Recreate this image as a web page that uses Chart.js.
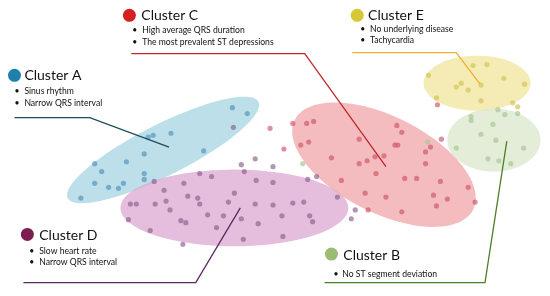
<!DOCTYPE html>
<html>
<head>
<meta charset="utf-8">
<script src="https://cdn.jsdelivr.net/npm/chart.js@4"></script>
<style>
  html, body { margin: 0; padding: 0; background: #fff; }
  canvas { display: block; }
</style>
</head>
<body>
<canvas id="clusters" width="550" height="296"></canvas>
<script>
// cluster names and their descriptions
var clusterNames = ['Cluster A', 'Cluster B', 'Cluster C', 'Cluster D', 'Cluster E'];
var clusterNotes = [
  ['Sinus rhythm', 'Narrow QRS interval'],
  ['No ST segment deviation'],
  ['High average QRS duration', 'The most prevalent ST depressions'],
  ['Slow heart rate', 'Narrow QRS interval'],
  ['No underlying disease', 'Tachycardia']
];

// embedding coordinates per cluster, [x, y]
var pointsA = [[232,107],[247,113],[152,135],[170,133],[147,137],[143,154],[125,162],[93,164],
  [100,172],[143,174],[143,180],[93,184],[107,188],[117,189],[122,184],[79,199],[203,151]];
var pointsB = [[500,109],[507,114],[520,113],[473,116],[473,120],[495,124],[483,134],[498,140],
  [458,148],[526,148],[490,159],[501,161],[513,164],[429,142],[303,164]];
var pointsC = [[270,128],[284,149],[293,123],[307,123],[314,121],[301,145],[309,142],[360,139],
  [332,158],[360,164],[368,161],[376,157],[385,156],[398,125],[403,132],[396,145],[399,145],
  [427,152],[432,147],[427,164],[443,139],[439,104],[342,181],[377,174],[406,179],[418,179],
  [442,182],[366,194],[387,198],[435,196],[449,200],[438,207],[470,188],[477,203],[403,213],[369,211]];
var pointsD = [[233,127],[153,182],[199,174],[211,177],[241,165],[255,159],[244,172],[256,181],
  [273,167],[273,183],[163,191],[183,184],[129,205],[135,205],[154,205],[165,202],[169,211],
  [187,197],[197,199],[199,205],[234,194],[228,203],[255,205],[273,206],[127,221],[180,222],
  [185,224],[207,216],[223,217],[241,220],[258,225],[216,229],[149,232],[243,241],[182,246],
  [308,180],[317,177],[338,198],[293,204],[304,203],[282,217],[310,217],[313,223],[283,238],
  [356,211],[352,220]];
var pointsE = [[430,74],[475,64],[489,63],[506,77],[527,83],[458,86],[463,82],[470,89],[483,84],
  [438,97],[483,100],[515,102],[520,106]];

// cluster regions: centre x, centre y, semi axes, rotation (deg)
var regionA = [162, 150, 108, 26, -27];
var regionB = [496, 140, 47, 32, 0];
var regionC = [385, 165, 101, 49, 27];
var regionD = [234, 209, 115, 39, 0];
var regionE = [479, 82, 54, 28, 0];

function toXY(list) {
  return list.map(function(p) { return { x: p[0], y: p[1] }; });
}

var styles = {
  A: { dot: 'rgba(80,145,185,0.65)',  fill: 'rgba(160,210,225,0.7)', key: '#1f7fad', line: '#1d4c5e' },
  B: { dot: 'rgba(170,200,150,0.7)',  fill: 'rgba(215,230,200,0.7)', key: '#9cbb74', line: '#4d7f2b' },
  C: { dot: 'rgba(205,85,105,0.65)',  fill: 'rgba(240,165,170,0.75)', key: '#d42020', line: '#c0282a' },
  D: { dot: 'rgba(135,95,140,0.65)',  fill: 'rgba(222,168,210,0.75)', key: '#7b1d4f', line: '#5c2a5e' },
  E: { dot: 'rgba(215,200,95,0.75)',  fill: 'rgba(240,230,155,0.75)', key: '#d6c834', line: '#f0b030' }
};

// callout placement: key dot, title, bullets and leader line
var callouts = [
  { id: 'A', idx: 0, key: [12, 74], title: [22, 79], notes: [93, 105], bx: 12, tx: 22,
    leader: [[12,117],[88,117],[168,147]] },
  { id: 'C', idx: 2, key: [128, 13], title: [140, 18], notes: [31, 43], bx: 131, tx: 141,
    leader: [[130,52],[305,52],[387,167]] },
  { id: 'E', idx: 4, key: [358, 13], title: [369, 18], notes: [30, 41], bx: 361, tx: 371,
    leader: [[353,51],[458,51],[482,83]] },
  { id: 'D', idx: 3, key: [25, 236], title: [37, 242], notes: [256, 267], bx: 27, tx: 37,
    leader: [[21,285],[195,285],[240,209]] },
  { id: 'B', idx: 1, key: [332, 256], title: [344, 262], notes: [279], bx: 334, tx: 343,
    leader: [[325,285],[487,285],[509,141]] }
];

var regionPlugin = {
  id: 'regions',
  beforeDatasetsDraw: function(chart) {
    var ctx = chart.ctx, xs = chart.scales.x, ys = chart.scales.y;
    var regions = [['E', regionE], ['B', regionB], ['A', regionA], ['D', regionD], ['C', regionC]];
    ctx.save();
    regions.forEach(function(r) {
      var e = r[1], th = e[4] * Math.PI / 180;
      ctx.beginPath();
      for (var i = 0; i <= 96; i++) {
        var t = i / 96 * Math.PI * 2;
        var x = e[0] + e[2] * Math.cos(t) * Math.cos(th) - e[3] * Math.sin(t) * Math.sin(th);
        var y = e[1] + e[2] * Math.cos(t) * Math.sin(th) + e[3] * Math.sin(t) * Math.cos(th);
        var px = xs.getPixelForValue(x), py = ys.getPixelForValue(y);
        if (i === 0) ctx.moveTo(px, py); else ctx.lineTo(px, py);
      }
      ctx.closePath();
      ctx.fillStyle = styles[r[0]].fill;
      ctx.fill();
    });
    ctx.restore();
  },
  afterDatasetsDraw: function(chart) {
    var ctx = chart.ctx, xs = chart.scales.x, ys = chart.scales.y;
    function px(v) { return xs.getPixelForValue(v); }
    function py(v) { return ys.getPixelForValue(v); }
    ctx.save();
    callouts.forEach(function(c) {
      var st = styles[c.id];
      // leader line
      ctx.beginPath();
      c.leader.forEach(function(p, i) {
        if (i === 0) ctx.moveTo(px(p[0]), py(p[1])); else ctx.lineTo(px(p[0]), py(p[1]));
      });
      ctx.strokeStyle = st.line;
      ctx.lineWidth = 1.3;
      ctx.stroke();
      // key dot
      ctx.beginPath();
      ctx.arc(px(c.key[0]), py(c.key[1]), 6.5, 0, Math.PI * 2);
      ctx.fillStyle = st.key;
      ctx.fill();
      // title and bullets
      ctx.fillStyle = '#111';
      ctx.textBaseline = 'alphabetic';
      ctx.font = '14px Lato, "Open Sans", sans-serif';
      ctx.fillText(clusterNames[c.idx], px(c.title[0]), py(c.title[1]));
      ctx.font = '8.6px Lato, "Open Sans", sans-serif';
      clusterNotes[c.idx].forEach(function(note, i) {
        ctx.fillText('\u2022', px(c.bx), py(c.notes[i]));
        ctx.fillText(note, px(c.tx), py(c.notes[i]));
      });
    });
    ctx.restore();
  }
};

function series(label, pts, id) {
  return {
    label: label,
    data: toXY(pts),
    pointRadius: 2.6,
    pointHoverRadius: 2.6,
    pointBorderWidth: 0,
    backgroundColor: styles[id].dot,
    borderColor: styles[id].dot
  };
}

new Chart(document.getElementById('clusters'), {
  type: 'scatter',
  data: {
    datasets: [
      series(clusterNames[0], pointsA, 'A'),
      series(clusterNames[1], pointsB, 'B'),
      series(clusterNames[2], pointsC, 'C'),
      series(clusterNames[3], pointsD, 'D'),
      series(clusterNames[4], pointsE, 'E')
    ]
  },
  options: {
    responsive: false,
    animation: false,
    layout: { padding: 0 },
    scales: {
      x: { type: 'linear', min: 0, max: 550, display: false },
      y: { type: 'linear', min: 0, max: 296, reverse: true, display: false }
    },
    plugins: {
      legend: { display: false },
      tooltip: { enabled: false }
    }
  },
  plugins: [regionPlugin]
});
</script>
</body>
</html>
